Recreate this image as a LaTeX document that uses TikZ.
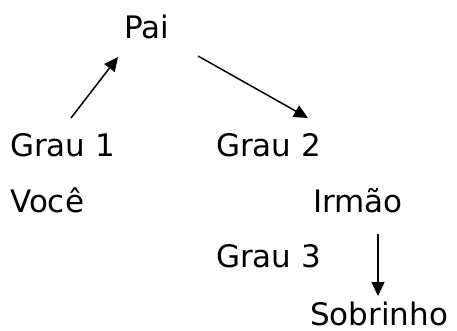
\documentclass[tikz,border=0pt]{standalone}
\usepackage{fontspec}
\setmainfont{DejaVu Sans}
\usetikzlibrary{arrows.meta}
\begin{document}
\begin{tikzpicture}[x=1pt,y=-1pt,
  label text/.style={anchor=base west,inner sep=0pt,font=\fontsize{31}{37}\selectfont},
  link/.style={line width=1.5pt,-{Triangle[length=14pt,width=13pt]}}]
\useasboundingbox (0,0) rectangle (457,331);
% family members and degree labels
\node[label text] (pai) at (124,39) {Pai};
\node[label text] (grau1) at (10,157) {Grau 1};
\node[label text] (grau2) at (216,157) {Grau 2};
\node[label text] (voce) at (10,212) {Você};
\node[label text] (irmao) at (313,212) {Irmão};
\node[label text] (grau3) at (216,267) {Grau 3};
\node[label text] (sobrinho) at (310,325) {Sobrinho};
% arrow end points
\coordinate (a1s) at (71,118);
\coordinate (a1e) at (118,57);
\coordinate (a2s) at (198,56);
\coordinate (a2e) at (308,118);
\coordinate (a3s) at (378,234);
\coordinate (a3e) at (378,296);
\draw[link] (a1s) -- (a1e);
\draw[link] (a2s) -- (a2e);
\draw[link] (a3s) -- (a3e);
\end{tikzpicture}
\end{document}
